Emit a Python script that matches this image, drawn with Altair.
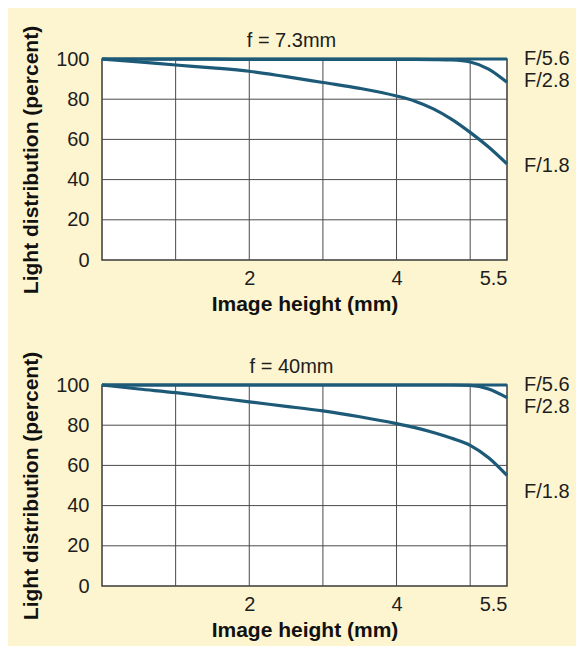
import altair as alt
import pandas as pd

# ---- data ----
x_pts = [0, 0.5, 1, 1.5, 2, 2.5, 3, 3.5, 4, 4.25, 4.5, 4.75, 5, 5.25, 5.5]

top_f18 = [100, 98.6, 97.0, 95.6, 93.9, 91.2, 88.3, 85.4, 81.6, 79.0, 75.2, 70.0, 63.5, 56.2, 47.8]
top_f28 = [100, 100, 99.9, 99.9, 99.8, 99.8, 99.8, 99.8, 99.8, 99.8, 99.7, 99.5, 98.5, 95.0, 88.4]
top_f56 = [100, 100, 100, 100, 100, 100, 100, 100, 100, 100, 100, 100, 100, 100, 100]

bot_f18 = [100, 98.0, 96.2, 93.9, 91.6, 89.4, 87.1, 84.2, 80.8, 78.8, 76.4, 73.5, 70.0, 63.8, 55.0]
bot_f28 = [100, 100, 100, 100, 100, 100, 100, 100, 100, 100, 100, 100, 99.8, 98.0, 93.7]
bot_f56 = [100, 100, 100, 100, 100, 100, 100, 100, 100, 100, 100, 100, 100, 100, 100]

series_names = ["F/1.8", "F/2.8", "F/5.6"]
label_y = [47, 89, 100]

titles = ["f = 7.3mm", "f = 40mm"]

grid_x = [1, 2, 3, 4, 5]
grid_y = [20, 40, 60, 80]
x_ticks = [2, 4, 5.5]
y_ticks = [0, 20, 40, 60, 80, 100]

FONT = "Liberation Sans Narrow, Liberation Sans, Arial, sans-serif"
LINE_COLOR = "#1c5a78"
GRID_COLOR = "#4a4a4a"
TEXT_COLOR = "#1e1e1e"
W, H = 405, 201


def make_df(f18, f28, f56):
    rows = []
    for name, vals in zip(series_names, [f18, f28, f56]):
        for x, v in zip(x_pts, vals):
            rows.append({"x": x, "y": v, "series": name})
    return pd.DataFrame(rows)


def panel(df, title):
    xs = alt.Scale(domain=[0, 5.5], nice=False, zero=False)
    ys = alt.Scale(domain=[0, 100], nice=False)

    gx = alt.Chart(pd.DataFrame({"gx": grid_x})).mark_rule(
        color=GRID_COLOR, strokeWidth=1
    ).encode(x=alt.X("gx:Q", scale=xs))
    gy = alt.Chart(pd.DataFrame({"gy": grid_y})).mark_rule(
        color=GRID_COLOR, strokeWidth=1
    ).encode(y=alt.Y("gy:Q", scale=ys))

    lines = alt.Chart(df).mark_line(
        color=LINE_COLOR, strokeWidth=3.2, interpolate="monotone"
    ).encode(
        x=alt.X(
            "x:Q",
            scale=xs,
            axis=alt.Axis(
                values=x_ticks,
                format="~g",
                title="Image height (mm)",
                grid=False,
                ticks=False,
                domain=False,
                labelPadding=8,
                titlePadding=5,
            ),
        ),
        y=alt.Y(
            "y:Q",
            scale=ys,
            axis=alt.Axis(
                values=y_ticks,
                title="Light distribution (percent)",
                grid=False,
                ticks=False,
                domain=False,
                labelPadding=13,
                titlePadding=14,
            ),
        ),
        detail="series:N",
    )

    lab_df = pd.DataFrame(
        {"series": series_names, "ly": label_y, "lx": [5.5] * 3}
    )
    labels = alt.Chart(lab_df).mark_text(
        align="left", baseline="middle", dx=17, font=FONT, fontSize=20,
        color=TEXT_COLOR
    ).encode(
        x=alt.X("lx:Q", scale=xs),
        y=alt.Y("ly:Q", scale=ys),
        text="series:N",
    )

    ttl = alt.Chart(pd.DataFrame({"t": [title]})).mark_text(
        align="center", baseline="alphabetic", font=FONT, fontSize=20,
        color=TEXT_COLOR
    ).encode(
        x=alt.value(W / 2 - 13),
        y=alt.value(-12),
        text="t:N",
    )

    return alt.layer(gx, gy, lines, labels, ttl).properties(width=W, height=H)


top = panel(make_df(top_f18, top_f28, top_f56), titles[0])
bot = panel(make_df(bot_f18, bot_f28, bot_f56), titles[1])

chart = alt.vconcat(top, bot, spacing=35).properties(
    background="#fdf5d0",
    padding={"left": 11, "top": 16, "right": 5, "bottom": 5},
).configure_view(
    fill="white", stroke="#3a3a3a", strokeWidth=1.5
).configure_axis(
    labelFont=FONT, labelFontSize=20, labelColor=TEXT_COLOR,
    titleFont=FONT, titleFontSize=21, titleFontWeight="bold",
    titleColor="#111111",
)

chart.save("out.html", embed_options={"renderer": "svg", "actions": False})
